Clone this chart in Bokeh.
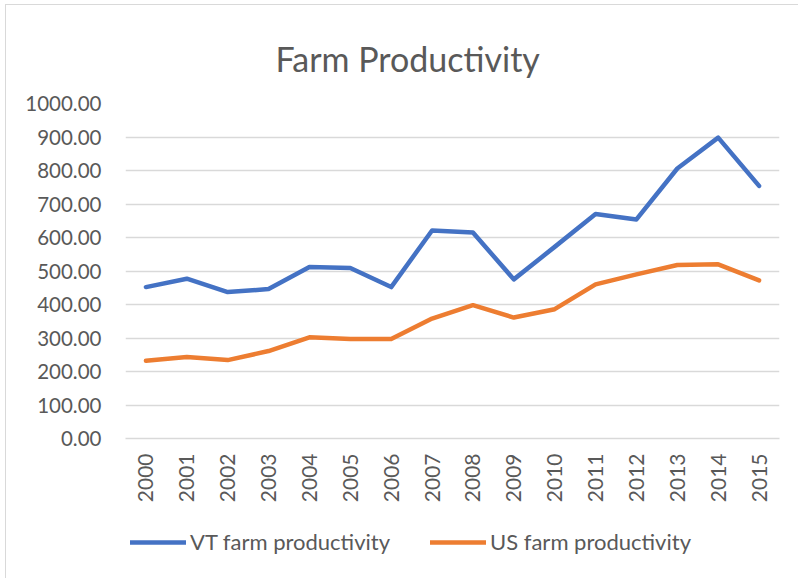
import math
from bokeh.plotting import figure
from bokeh.layouts import column
from bokeh.models import (Range1d, FactorRange, PrintfTickFormatter, FixedTicker,
                          Legend, LegendItem, Label)
from bokeh.embed import file_html
from bokeh.resources import INLINE

years = [str(y) for y in range(2000, 2016)]
vt_productivity = [452, 477, 437, 446, 512, 509, 452, 621, 615, 475, 572, 670, 654, 806, 898, 754]
us_productivity = [232, 243, 234, 261, 302, 297, 297, 358, 398, 361, 386, 460, 490, 518, 520, 472]
y_ticks = list(range(0, 1001, 100))
title_text = "Farm Productivity"
series_names = ["VT farm productivity", "US farm productivity"]
series_colors = ["#4472C4", "#ED7D31"]

FONT = "Lato"
GREY = "#595959"

ox, oy = 6, 5          # outer margin+border
W = 798 - ox
top_split = 88         # page y where the main chart figure begins
split = 510            # page y where the legend strip begins
H0 = top_split - oy
H1 = split - top_split
H2 = 578 - split
frame_left, frame_right = 125 - ox, 779 - ox
frame_top, frame_bottom = 103 - top_split, 438 - top_split
MBL, MBR = frame_left, W - frame_right


def strip(height):
    f = figure(width=W, height=height, output_backend="svg", toolbar_location=None,
               x_range=Range1d(0, 1), y_range=Range1d(0, 1),
               min_border_left=MBL, min_border_right=MBR,
               min_border_top=0, min_border_bottom=0,
               background_fill_color="white", border_fill_color="white")
    f.axis.visible = False
    f.grid.visible = False
    f.outline_line_color = None
    return f


# title strip
t = strip(H0)
t.add_layout(Label(x=(275 - 125) / (779 - 125), y=(top_split - 58) / H0,
                   text=title_text, text_align="left", text_baseline="alphabetic",
                   text_font=FONT, text_font_size="34px", text_color=GREY))

# main chart
p = figure(width=W, height=H1, output_backend="svg", toolbar_location=None,
           x_range=FactorRange(*years, range_padding=0),
           y_range=Range1d(0, 1000),
           min_border_left=MBL, min_border_right=MBR,
           min_border_top=frame_top, min_border_bottom=H1 - frame_bottom,
           background_fill_color="white", border_fill_color="white")
p.outline_line_color = None

r1 = p.line(years, vt_productivity, line_color=series_colors[0], line_width=4.5,
            line_cap="round", line_join="round")
r2 = p.line(years, us_productivity, line_color=series_colors[1], line_width=4.5,
            line_cap="round", line_join="round")

p.yaxis.ticker = FixedTicker(ticks=y_ticks)
p.yaxis.formatter = PrintfTickFormatter(format="%.2f")
p.yaxis.axis_line_color = None
p.yaxis.major_tick_line_color = None
p.yaxis.minor_tick_line_color = None
p.yaxis.major_tick_out = 0
p.yaxis.major_tick_in = 0
p.yaxis.major_label_standoff = 24
p.yaxis.major_label_text_font = FONT
p.yaxis.major_label_text_font_size = "20.5px"
p.yaxis.major_label_text_color = GREY

p.xaxis.axis_line_color = "#d9d9d9"
p.xaxis.axis_line_width = 1.5
p.xaxis.major_tick_line_color = None
p.xaxis.major_tick_out = 0
p.xaxis.major_tick_in = 0
p.xaxis.major_label_orientation = math.pi / 2
p.xaxis.major_label_standoff = 15
p.xaxis.major_label_text_font = FONT
p.xaxis.major_label_text_font_size = "21px"
p.xaxis.major_label_text_color = GREY

p.xgrid.grid_line_color = None
p.ygrid.grid_line_color = "#d9d9d9"
p.ygrid.grid_line_width = 1.5

# legend strip
q = strip(H2)
idx = list(range(len(years)))
# same series, outside q's visible range: they only supply the legend glyphs
l1 = q.line(idx, vt_productivity, line_color=series_colors[0], line_width=4.5, line_cap="round")
l2 = q.line(idx, us_productivity, line_color=series_colors[1], line_width=4.5, line_cap="round")
legend = Legend(items=[LegendItem(label=series_names[0], renderers=[l1]),
                       LegendItem(label=series_names[1], renderers=[l2])],
                location=(130 - 125, 23), orientation="horizontal",
                glyph_width=56, glyph_height=20, label_standoff=4, spacing=40,
                padding=0, margin=0, border_line_color=None,
                background_fill_alpha=0,
                label_text_font=FONT, label_text_font_size="22px",
                label_text_color=GREY)
q.add_layout(legend, "center")

layout = column(t, p, q, spacing=0)
layout.styles = {"margin-left": "5px", "margin-top": "4px",
                 "border-left": "1px solid #d9d9d9", "border-top": "1px solid #d9d9d9"}

open("out.html", "w").write(file_html(layout, INLINE))
